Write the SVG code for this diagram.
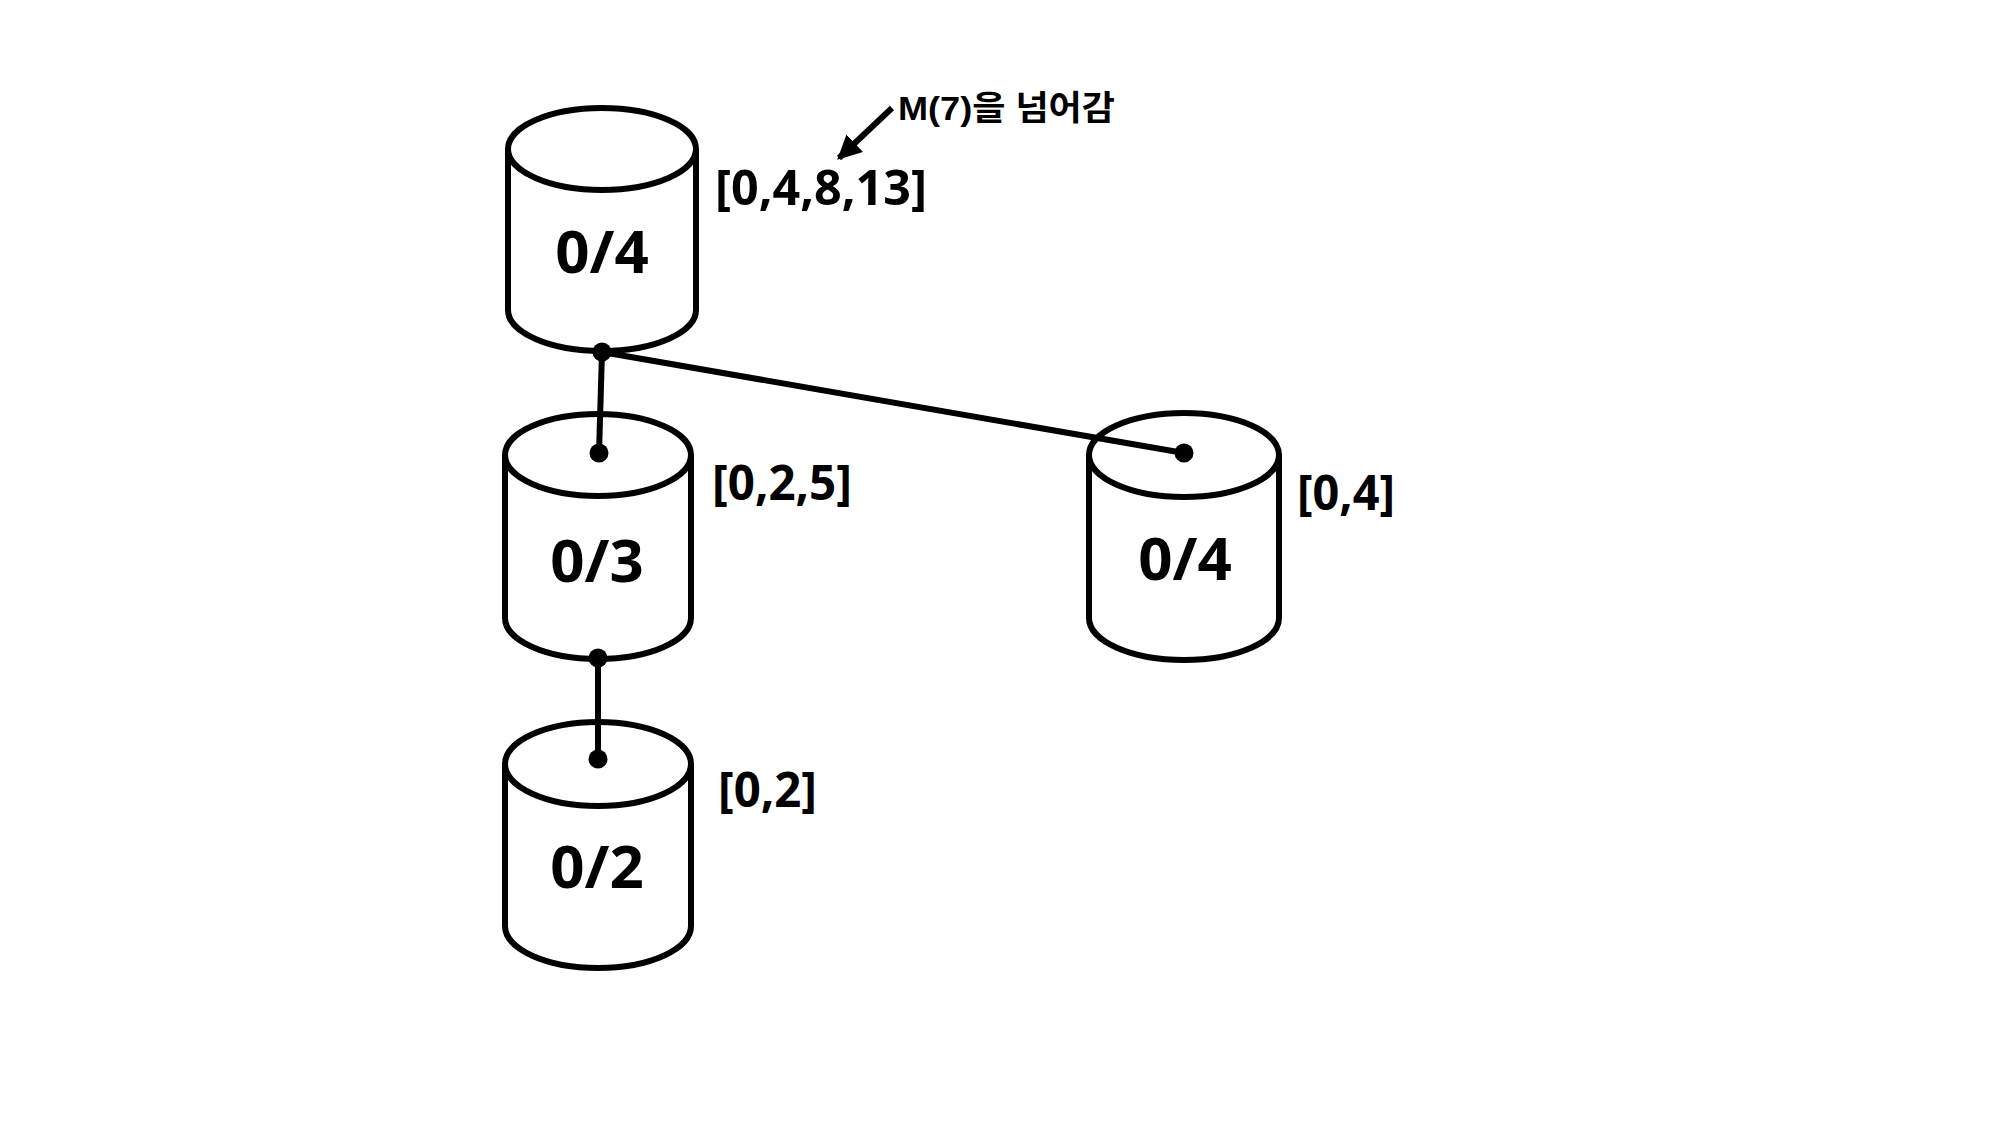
<svg xmlns="http://www.w3.org/2000/svg" width="2000" height="1125" viewBox="0 0 2000 1125">
  <style>
    .cyl { fill: #ffffff; stroke: #000000; stroke-width: 6; stroke-linejoin: round; }
    .big { font-family: "Noto Sans", "Open Sans", sans-serif; font-weight: bold; font-size: 60px; fill: #000; text-anchor: middle; }
    .lbl { font-family: "Noto Sans", "Open Sans", sans-serif; font-weight: bold; font-size: 48px; fill: #000; }
    .note { font-family: "Liberation Sans", "Noto Sans CJK KR", sans-serif; font-weight: bold; font-size: 34px; fill: #000; }
    .conn { stroke: #000; stroke-width: 6; fill: none; }
    .dot { fill: #000; }
  </style>
  <defs>
    <marker id="arrow" viewBox="0 0 10 10" refX="9" refY="5" markerWidth="4" markerHeight="4" orient="auto" markerUnits="strokeWidth">
      <path d="M0,0 L10,5 L0,10 Z" fill="#000"/>
    </marker>
  </defs>
  <rect width="2000" height="1125" fill="#ffffff"/>

  <g id="node-root">
    <path class="cyl" d="M508,149 L508,310 A94,41 0 0 0 696,310 L696,149"/>
    <ellipse class="cyl" cx="602" cy="149" rx="94" ry="41"/>
    <text class="big" x="602" y="273">0/4</text>
    <text class="lbl" x="715" y="205" textLength="212" lengthAdjust="spacingAndGlyphs">[0,4,8,13]</text>
  </g>

  <g id="node-mid">
    <path class="cyl" d="M505,455 L505,618 A93,41 0 0 0 691,618 L691,455"/>
    <ellipse class="cyl" cx="598" cy="455" rx="93" ry="41"/>
    <text class="big" x="597" y="582">0/3</text>
    <text class="lbl" x="712" y="500" textLength="140" lengthAdjust="spacingAndGlyphs">[0,2,5]</text>
  </g>

  <g id="node-low">
    <path class="cyl" d="M505,764 L505,926 A93,42 0 0 0 691,926 L691,764"/>
    <ellipse class="cyl" cx="598" cy="764" rx="93" ry="42"/>
    <text class="big" x="597" y="888">0/2</text>
    <text class="lbl" x="718" y="807" textLength="99" lengthAdjust="spacingAndGlyphs">[0,2]</text>
  </g>

  <g id="node-right">
    <path class="cyl" d="M1089,455 L1089,618 A95,42 0 0 0 1279,618 L1279,455"/>
    <ellipse class="cyl" cx="1184" cy="455" rx="95" ry="42"/>
    <text class="big" x="1185" y="580">0/4</text>
    <text class="lbl" x="1297" y="510" textLength="98" lengthAdjust="spacingAndGlyphs">[0,4]</text>
  </g>

  <g id="connectors">
    <line class="conn" x1="602" y1="352" x2="599" y2="453"/>
    <line class="conn" x1="602" y1="352" x2="1184" y2="453"/>
    <line class="conn" x1="598" y1="658" x2="598" y2="759"/>
    <circle class="dot" cx="602" cy="352" r="9.5"/>
    <circle class="dot" cx="599" cy="453" r="9.5"/>
    <circle class="dot" cx="1184" cy="453" r="9.5"/>
    <circle class="dot" cx="598" cy="658" r="9.5"/>
    <circle class="dot" cx="598" cy="759" r="9.5"/>
  </g>

  <g id="annotation">
    <line class="conn" x1="892" y1="108" x2="839" y2="158" marker-end="url(#arrow)"/>
    <text class="note" x="898" y="120" textLength="217" lengthAdjust="spacingAndGlyphs">M(7)을 넘어감</text>
  </g>
</svg>
